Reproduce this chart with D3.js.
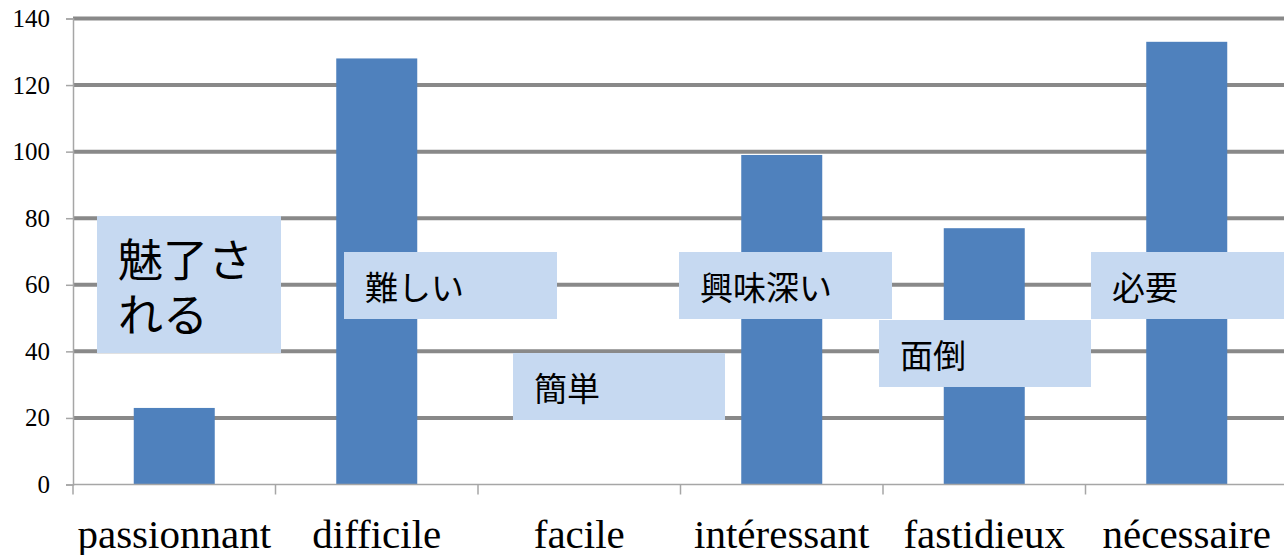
<!DOCTYPE html>
<html>
<head>
<meta charset="utf-8">
<script src="https://cdnjs.cloudflare.com/ajax/libs/d3/7.8.5/d3.min.js"></script>
<style>
  body { margin: 0; background: #fff; }
</style>
</head>
<body>
<script>
// chart values
var categories = ['passionnant', 'difficile', 'facile', 'intéressant', 'fastidieux', 'nécessaire'];
var counts = [23, 128, 0, 99, 77, 133];
var yTicks = [0, 20, 40, 60, 80, 100, 120, 140];
var notes = [['魅了さ', 'れる'], ['難しい'], ['簡単'], ['興味深い'], ['面倒'], ['必要']];

// where the note boxes sit (left, top, width, height, font size)
var noteBoxes = [
    [97, 216, 184, 137, 45],
    [344, 252, 213, 67, 33],
    [513, 353, 212, 67, 33],
    [679, 252, 213, 67, 33],
    [879, 320, 212, 67, 33],
    [1091, 252, 193, 67, 33]
];

var W = 1284, H = 555;
var plotL = 73, plotR = 1288, plotT = 18.5, plotB = 484.5;
var serif = '"Liberation Serif", "Times New Roman", Times, serif';

var svg = d3.select('body').append('svg').attr('width', W).attr('height', H);

var x = d3.scaleBand().domain(categories).range([plotL, plotR]).paddingInner(0.6).paddingOuter(0.3);
var xOuter = d3.scaleBand().domain(categories).range([plotL, plotR]);
var y = d3.scaleLinear().domain([0, 140]).range([plotB, plotT]);

// grid lines
svg.selectAll('line.grid')
    .data(yTicks.filter(function(d) { return d > 0; }))
    .enter()
    .append('line')
    .attr('class', 'grid')
    .attr('x1', plotL)
    .attr('x2', W)
    .attr('y1', function(d) { return y(d); })
    .attr('y2', function(d) { return y(d); })
    .attr('stroke', '#898989')
    .attr('stroke-width', 4);

// y axis
var yAxis = svg.append('g')
    .attr('transform', 'translate(' + plotL + ',0)')
    .call(d3.axisLeft(y).tickValues(yTicks).tickSize(7).tickPadding(16))
    .attr('font-family', serif)
    .attr('font-size', 25);
yAxis.select('.domain').attr('stroke', '#a6a6a6').attr('stroke-width', 1.5);
yAxis.selectAll('.tick line').attr('stroke', '#a6a6a6').attr('stroke-width', 1.5);
yAxis.selectAll('.tick text')
    .style('font-family', serif)
    .style('font-size', '25px')
    .attr('fill', '#000');

// bars
svg.selectAll('rect.bar')
    .data(counts)
    .enter()
    .append('rect')
    .attr('class', 'bar')
    .attr('x', function(d, i) { return x(categories[i]); })
    .attr('width', x.bandwidth())
    .attr('y', function(d) { return y(d); })
    .attr('height', function(d) { return plotB - y(d); })
    .attr('fill', '#4f81bd');

// x axis
var xAxis = svg.append('g')
    .attr('transform', 'translate(0,' + plotB + ')');
xAxis.append('line')
    .attr('x1', plotL).attr('x2', W)
    .attr('stroke', '#a6a6a6').attr('stroke-width', 1.5);
xAxis.selectAll('line.tick')
    .data(categories)
    .enter()
    .append('line')
    .attr('class', 'tick')
    .attr('x1', function(d) { return xOuter(d); })
    .attr('x2', function(d) { return xOuter(d); })
    .attr('y1', 0)
    .attr('y2', 10)
    .attr('stroke', '#a6a6a6')
    .attr('stroke-width', 1.5);
xAxis.selectAll('text')
    .data(categories)
    .enter()
    .append('text')
    .attr('x', function(d) { return xOuter(d) + xOuter.bandwidth() / 2; })
    .attr('y', 63)
    .attr('text-anchor', 'middle')
    .style('font-family', serif)
    .style('font-size', '41px')
    .attr('fill', '#000')
    .text(function(d) { return d; });

// note boxes
var boxes = svg.selectAll('g.note')
    .data(notes)
    .enter()
    .append('g')
    .attr('class', 'note')
    .attr('transform', function(d, i) {
        return 'translate(' + noteBoxes[i][0] + ',' + noteBoxes[i][1] + ')';
    });
boxes.append('rect')
    .attr('width', function(d, i) { return noteBoxes[i][2]; })
    .attr('height', function(d, i) { return noteBoxes[i][3]; })
    .attr('fill', '#c6d9f1');
boxes.each(function(lines, i) {
    var b = noteBoxes[i];
    var lh = 55;
    var y0 = b[3] / 2 - (lines.length - 1) * lh / 2;
    d3.select(this).selectAll('text')
        .data(lines)
        .enter()
        .append('text')
        .attr('x', 21)
        .attr('y', function(d, j) { return y0 + j * lh; })
        .attr('dominant-baseline', 'central')
        .attr('font-family', '"Noto Sans CJK JP", sans-serif')
        .attr('font-size', b[4])
        .attr('fill', '#000')
        .text(function(d) { return d; });
});
</script>
</body>
</html>
